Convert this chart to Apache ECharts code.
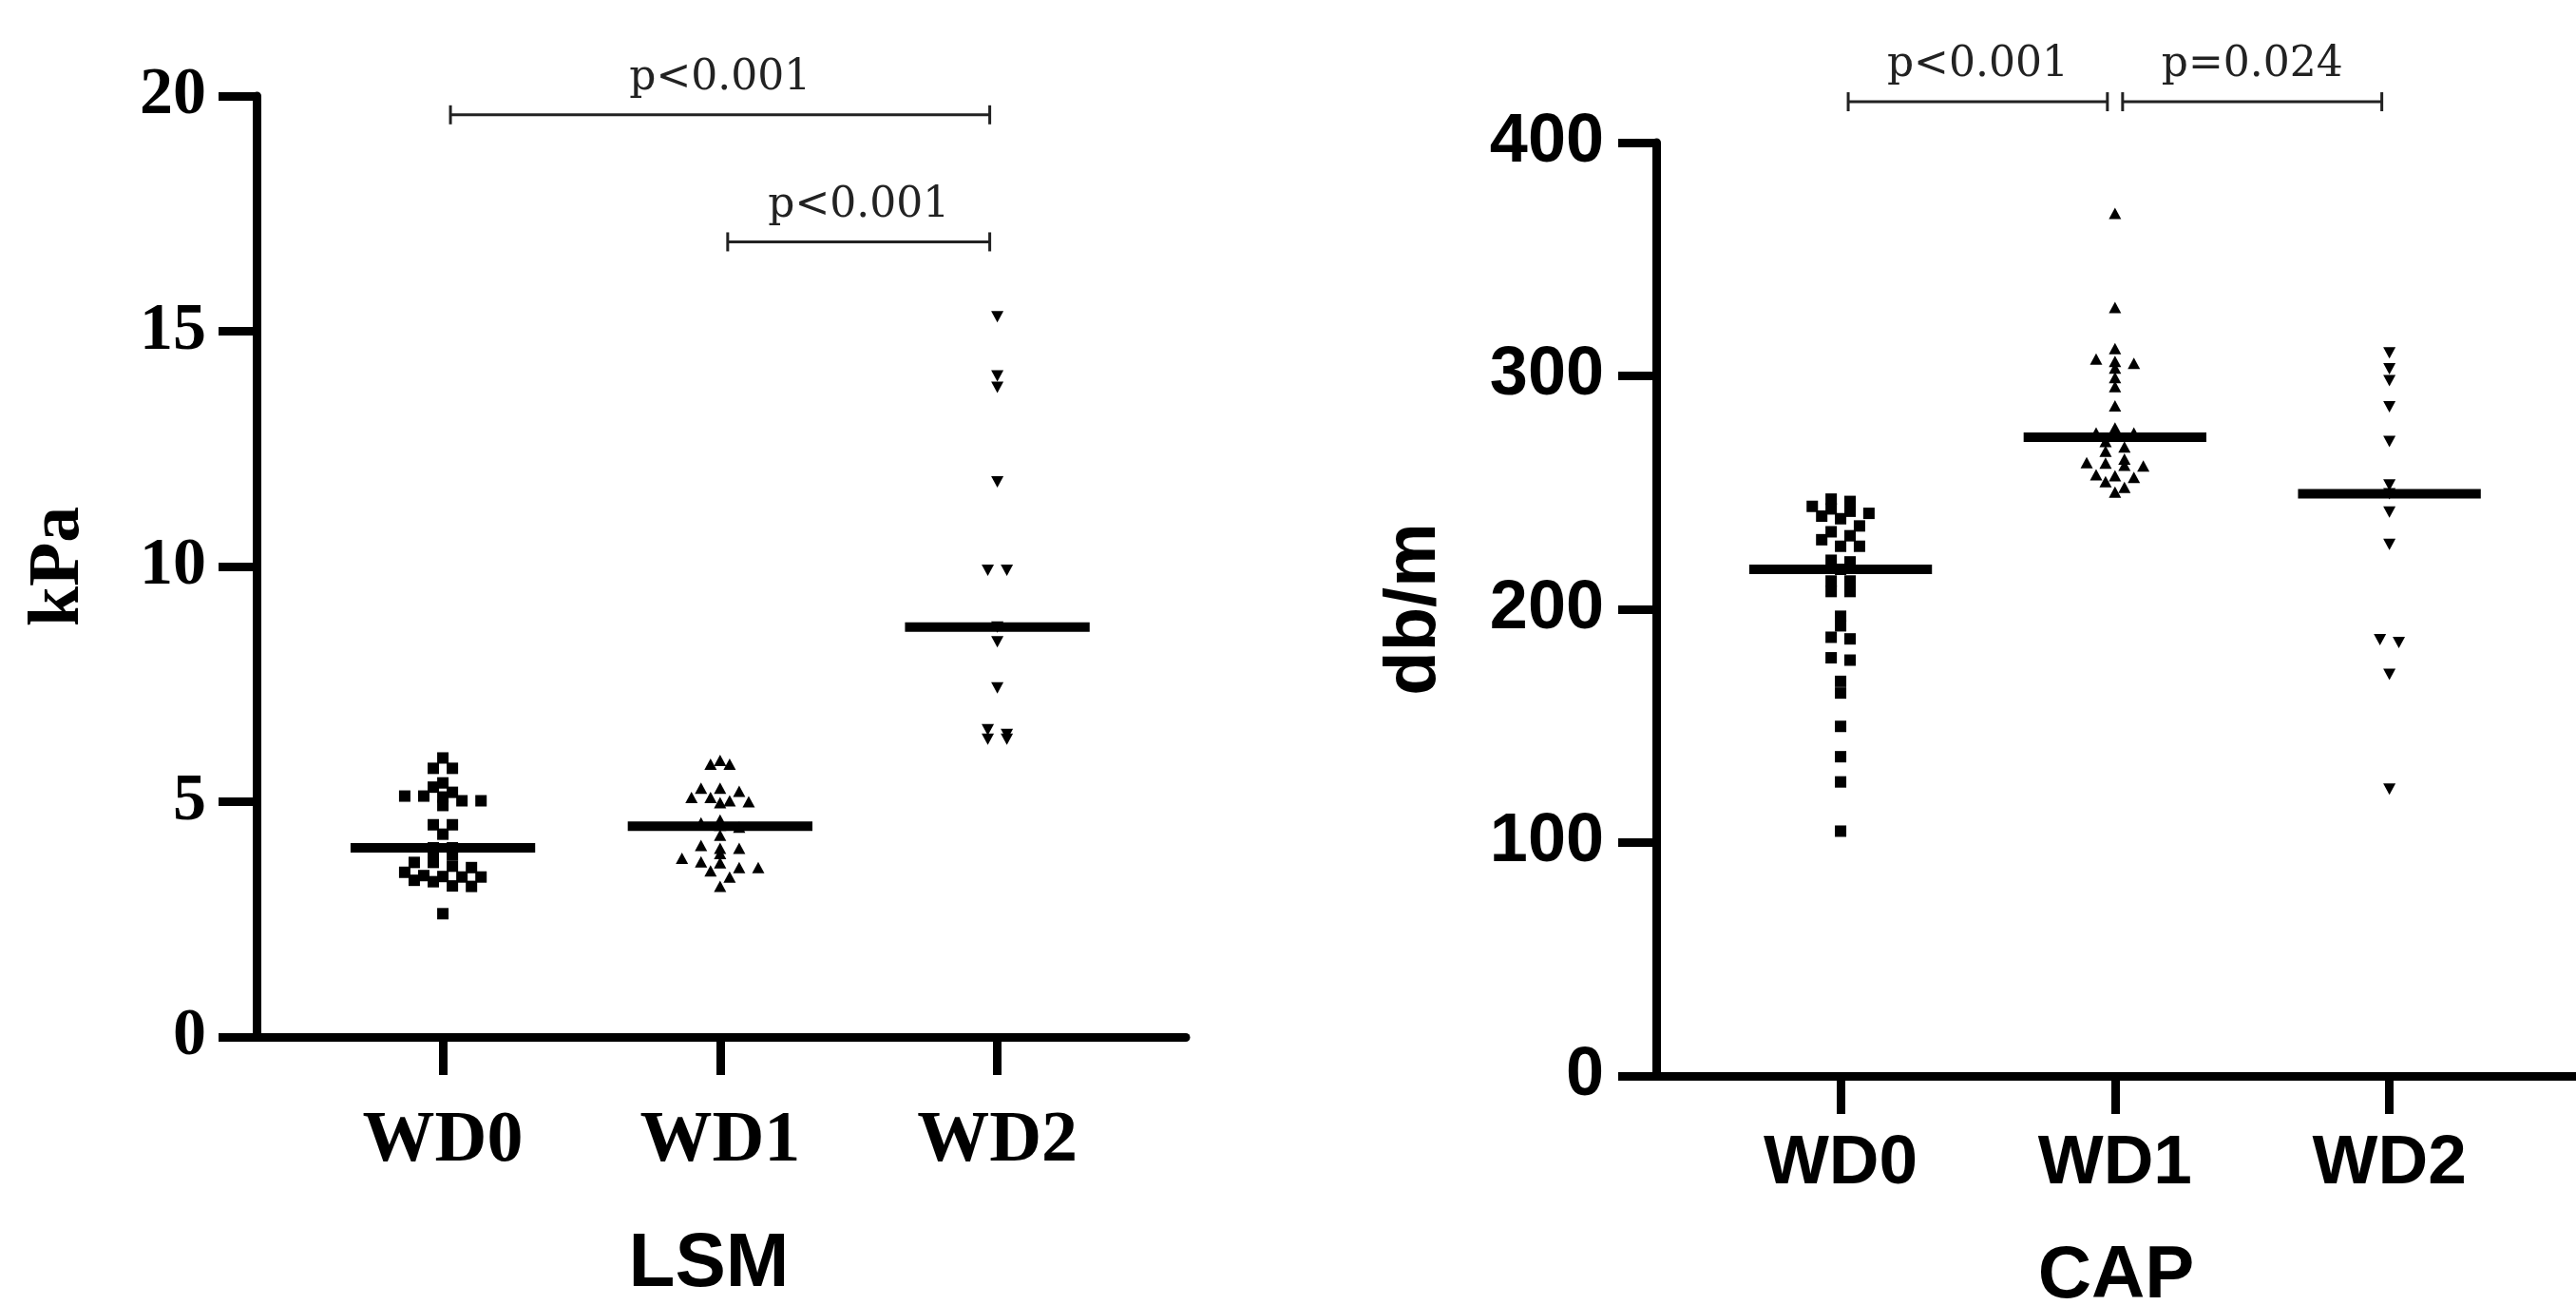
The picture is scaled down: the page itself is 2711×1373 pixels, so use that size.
<!DOCTYPE html>
<html>
<head>
<meta charset="utf-8">
<title>LSM / CAP</title>
<script src="https://cdn.jsdelivr.net/npm/echarts@6/dist/echarts.min.js"></script>
<style>
  html, body { margin: 0; padding: 0; background: #fff; }
  #chart { width: 2711px; height: 1373px; }
</style>
</head>
<body>
<div id="chart"></div>
<script>
var groups = ['WD0', 'WD1', 'WD2'];

// LSM (kPa)
var lsmWD0 = [5.93, 5.71, 5.71, 5.40, 5.31, 5.20, 5.12, 5.12, 5.10, 5.02, 5.02, 4.92, 4.51, 4.51, 4.31, 4.02, 4.02,
  3.92, 3.87, 3.71, 3.71, 3.63, 3.60, 3.50, 3.43, 3.41, 3.40, 3.40, 3.33, 3.30, 3.21, 3.20, 2.62];
var lsmWD1 = [5.88, 5.80, 5.80, 5.29, 5.29, 5.22, 5.09, 5.09, 5.02, 5.00, 4.98, 4.61, 4.55, 4.50, 4.46, 4.29, 4.07,
  4.01, 4.01, 3.90, 3.80, 3.72, 3.70, 3.60, 3.60, 3.53, 3.40, 3.20];
var lsmWD2 = [15.31, 14.05, 13.81, 11.80, 9.92, 9.92, 8.71, 8.40, 7.42, 6.53, 6.43, 6.33, 6.33];

// CAP (db/m)
var capWD0 = [247.2, 246.2, 244.1, 243.0, 242.0, 241.1, 239.9, 238.8, 235.7, 233.2, 231.5, 229.8, 227.0, 227.0, 221.0,
  220.3, 217.1, 212.1, 212.1, 207.6, 207.6, 197.0, 192.9, 188.0, 187.3, 179.2, 178.2, 169.1, 164.1, 149.8, 136.8, 126.0, 104.9];
var capWD1 = [369.7, 329.3, 311.7, 307.2, 306.2, 305.4, 303.4, 299.3, 295.4, 287.2, 277.7, 275.6, 275.6, 275.6, 271.9,
  269.6, 267.7, 264.4, 262.8, 262.6, 261.7, 261.4, 257.6, 257.2, 256.5, 254.7, 252.2, 250.2];
var capWD2 = [309.9, 303.1, 298.0, 286.8, 271.9, 253.3, 249.5, 241.6, 227.8, 187.0, 185.7, 172.1, 122.9];

// comparisons: [from group, to group, bracket height], with the p texts
var lsmPairs = [[0, 2, 19.6], [1, 2, 16.9]];
var lsmP = ['p<0.001', 'p<0.001'];
var capPairs = [[0, 1, 417.5], [1, 2, 417.5]];
var capP = ['p<0.001', 'p=0.024'];

var SERIF = 'Liberation Serif';
var SANS = 'Liberation Sans';

function median(arr) {
  var s = arr.slice().sort(function (a, b) { return a - b; });
  var n = s.length;
  return n % 2 ? s[(n - 1) / 2] : (s[n / 2 - 1] + s[n / 2]) / 2;
}

// scatter dot layout: values falling in the same row are put side by side
function swarm(values, gi, rowSize, colStep) {
  var rows = {};
  values.forEach(function (v) {
    var k = Math.floor(v / rowSize);
    (rows[k] = rows[k] || []).push(v);
  });
  var out = [];
  Object.keys(rows).forEach(function (k) {
    var row = rows[k];
    row.forEach(function (v, j) {
      out.push([gi + (j - (row.length - 1) / 2) * colStep, v]);
    });
  });
  return out;
}

function dots(values, gi, axis, symbol, size, rotate, rowSize) {
  return {
    type: 'scatter',
    xAxisIndex: axis, yAxisIndex: axis,
    symbol: symbol, symbolSize: size, symbolRotate: rotate,
    itemStyle: { color: '#000', opacity: 1 },
    z: 2, silent: true,
    data: swarm(values, gi, rowSize, 0.0688)
  };
}

function medians(lists, axis) {
  return {
    type: 'custom',
    xAxisIndex: axis, yAxisIndex: axis,
    z: 5, silent: true,
    data: lists.map(function (l, i) { return [i, median(l)]; }),
    renderItem: function (params, api) {
      var a = api.coord([api.value(0) - 0.333, api.value(1)]);
      var b = api.coord([api.value(0) + 0.333, api.value(1)]);
      return {
        type: 'line',
        shape: { x1: a[0], y1: a[1], x2: b[0], y2: b[1] },
        style: { stroke: '#000', lineWidth: 10 }
      };
    }
  };
}

function brackets(pairs, texts, axis) {
  return {
    type: 'custom',
    xAxisIndex: axis, yAxisIndex: axis,
    z: 5, silent: true, clip: false,
    data: pairs,
    renderItem: function (params, api) {
      var a = api.coord([api.value(0), api.value(2)]);
      var b = api.coord([api.value(1), api.value(2)]);
      var x1 = a[0] + 8, x2 = b[0] - 8, y = a[1];
      var st = { stroke: '#222', lineWidth: 3 };
      return {
        type: 'group',
        children: [
          { type: 'line', shape: { x1: x1, y1: y, x2: x2, y2: y }, style: st },
          { type: 'line', shape: { x1: x1, y1: y - 10, x2: x1, y2: y + 10 }, style: st },
          { type: 'line', shape: { x1: x2, y1: y - 10, x2: x2, y2: y + 10 }, style: st },
          {
            type: 'text', x: (x1 + x2) / 2, y: y - 38,
            style: {
              text: texts[params.dataIndex], fill: '#222',
              font: '44px "DejaVu Serif"', align: 'center', verticalAlign: 'middle'
            }
          }
        ]
      };
    }
  };
}

function xAxis(idx, fam, size, margin, name, nameSize, nameGap, namePad) {
  return {
    type: 'value', gridIndex: idx, min: -0.672, max: 2.68,
    axisLine: { onZero: false, lineStyle: { color: '#000', width: 9 } },
    axisTick: { customValues: [0, 1, 2], length: 40, lineStyle: { color: '#000', width: 9 } },
    axisLabel: {
      customValues: [0, 1, 2], margin: margin, color: '#000',
      fontFamily: fam, fontWeight: 'bold', fontSize: size,
      formatter: function (v) { return groups[Math.round(v)]; }
    },
    splitLine: { show: false },
    name: name, nameLocation: 'middle', nameGap: nameGap,
    nameTextStyle: { color: '#000', fontFamily: SANS, fontWeight: 'bold', fontSize: nameSize, padding: namePad }
  };
}

function yAxis(idx, max, interval, fam, size, margin, name, nameFam, nameGap) {
  return {
    type: 'value', gridIndex: idx, min: 0, max: max, interval: interval,
    axisLine: { show: true, onZero: false, lineStyle: { color: '#000', width: 9 } },
    axisTick: { show: true, length: 40, lineStyle: { color: '#000', width: 9 } },
    axisLabel: { margin: margin, color: '#000', fontFamily: fam, fontWeight: 'bold', fontSize: size },
    splitLine: { show: false },
    name: name, nameLocation: 'middle', nameGap: nameGap,
    nameTextStyle: { color: '#000', fontFamily: nameFam, fontWeight: 'bold', fontSize: 76 }
  };
}

var chart = echarts.init(document.getElementById('chart'), null, { renderer: 'canvas' });
chart.setOption({
  backgroundColor: '#fff',
  animation: false,
  grid: [
    { left: 270, top: 101, width: 978, height: 990, outerBoundsMode: 'none' },
    { left: 1743, top: 150, width: 968, height: 982, outerBoundsMode: 'none' }
  ],
  xAxis: [
    xAxis(0, SERIF, 76, 72, 'LSM', 80, 200, [0, 26, 0, 0]),
    xAxis(1, SANS, 73, 56, 'CAP', 78, 172, 0)
  ],
  yAxis: [
    yAxis(0, 20, 5, SERIF, 70, 53, 'kPa', SERIF, 170),
    yAxis(1, 400, 100, SANS, 72, 55, 'db/m', SANS, 216)
  ],
  series: [
    dots(lsmWD0, 0, 0, 'rect', 12, 0, 0.2),
    dots(lsmWD1, 1, 0, 'triangle', [13, 12], 0, 0.2),
    dots(lsmWD2, 2, 0, 'triangle', [13, 12], 180, 0.2),
    medians([lsmWD0, lsmWD1, lsmWD2], 0),
    brackets(lsmPairs, lsmP, 0),
    dots(capWD0, 0, 1, 'rect', 12, 0, 5),
    dots(capWD1, 1, 1, 'triangle', [13, 12], 0, 4),
    dots(capWD2, 2, 1, 'triangle', [13, 12], 180, 4),
    medians([capWD0, capWD1, capWD2], 1),
    brackets(capPairs, capP, 1)
  ]
});
</script>
</body>
</html>
